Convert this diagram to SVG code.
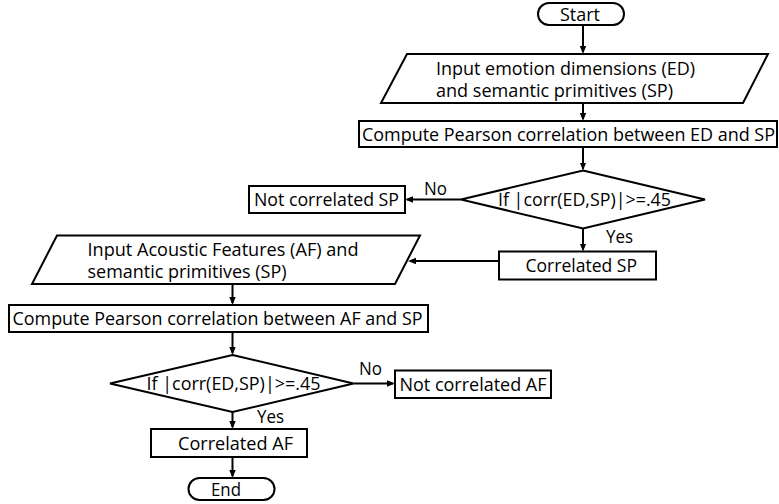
<svg xmlns="http://www.w3.org/2000/svg" width="779" height="504" viewBox="0 0 779 504">
  <style>
    .shape { fill: #ffffff; stroke: #000000; stroke-width: 2; }
    .flow { fill: none; stroke: #000000; stroke-width: 2; marker-end: url(#arrow); }
    text { font-family: "Open Sans", "Noto Sans", "Liberation Sans", sans-serif; font-size: 18px; fill: #000000; }
  </style>
  <defs>
    <marker id="arrow" viewBox="0 0 10 10" refX="7.5" refY="5" markerWidth="8" markerHeight="8" markerUnits="userSpaceOnUse" orient="auto">
      <path d="M0,1 L10,5 L0,9 z" fill="#000000"/>
    </marker>
  </defs>

  <rect x="0" y="0" width="779" height="504" fill="#ffffff"/>

  <!-- connectors -->
  <g id="connectors">
    <path class="flow" d="M583 25 V52"/>
    <path class="flow" d="M583 103 V119"/>
    <path class="flow" d="M583 147 V168.5"/>
    <path class="flow" d="M461 199.5 H407"/>
    <path class="flow" d="M583 228.5 V249.5"/>
    <path class="flow" d="M499 261 H410"/>
    <path class="flow" d="M232.5 284 V303"/>
    <path class="flow" d="M232.5 332 V353"/>
    <path class="flow" d="M353.5 383.5 H393"/>
    <path class="flow" d="M232.5 412 V427"/>
    <path class="flow" d="M232.5 457 V476"/>
  </g>

  <!-- edge labels -->
  <g id="labels">
    <text x="424" y="194.5" textLength="23" lengthAdjust="spacingAndGlyphs">No</text>
    <text x="606" y="243" textLength="27" lengthAdjust="spacingAndGlyphs">Yes</text>
    <text x="359" y="375" textLength="23" lengthAdjust="spacingAndGlyphs">No</text>
    <text x="257" y="423" textLength="27" lengthAdjust="spacingAndGlyphs">Yes</text>
  </g>

  <g id="start">
    <rect class="shape" x="538" y="3" width="86" height="22" rx="11" ry="11"/>
    <text x="560" y="20.5" textLength="40" lengthAdjust="spacingAndGlyphs">Start</text>
  </g>

  <g id="input-ed-sp">
    <polygon class="shape" points="407,54 768,54 743,103 381,103"/>
    <text x="436" y="75" textLength="259" lengthAdjust="spacingAndGlyphs">Input emotion dimensions (ED)</text>
    <text x="436" y="97" textLength="237" lengthAdjust="spacingAndGlyphs">and semantic primitives (SP)</text>
  </g>

  <g id="pearson-ed-sp">
    <rect class="shape" x="359" y="121" width="418" height="26"/>
    <text x="362" y="140.5" textLength="413" lengthAdjust="spacingAndGlyphs">Compute Pearson correlation between ED and SP</text>
  </g>

  <g id="decision-sp">
    <polygon class="shape" points="583,170.5 705,199.5 583,228.5 461,199.5"/>
    <text x="498" y="206" textLength="173" lengthAdjust="spacingAndGlyphs">If |corr(ED,SP)|&gt;=.45</text>
  </g>

  <g id="not-correlated-sp">
    <rect class="shape" x="249" y="186" width="156" height="27"/>
    <text x="254" y="206" textLength="145" lengthAdjust="spacingAndGlyphs">Not correlated SP</text>
  </g>

  <g id="correlated-sp">
    <rect class="shape" x="499" y="251.5" width="157" height="28"/>
    <text x="525.5" y="272" textLength="111.5" lengthAdjust="spacingAndGlyphs">Correlated SP</text>
  </g>

  <g id="input-af-sp">
    <polygon class="shape" points="57,235.5 420,235.5 395,284 32,284"/>
    <text x="87.5" y="255.5" textLength="271" lengthAdjust="spacingAndGlyphs">Input Acoustic Features (AF) and</text>
    <text x="87.5" y="277.5" textLength="199" lengthAdjust="spacingAndGlyphs">semantic primitives (SP)</text>
  </g>

  <g id="pearson-af-sp">
    <rect class="shape" x="9" y="305" width="419" height="27"/>
    <text x="12.5" y="324.5" textLength="410" lengthAdjust="spacingAndGlyphs">Compute Pearson correlation between AF and SP</text>
  </g>

  <g id="decision-af">
    <polygon class="shape" points="232.5,355 353.5,383.5 232.5,412 110,383.5"/>
    <text x="146.5" y="390" textLength="174" lengthAdjust="spacingAndGlyphs">If |corr(ED,SP)|&gt;=.45</text>
  </g>

  <g id="not-correlated-af">
    <rect class="shape" x="395" y="370.5" width="156" height="27.5"/>
    <text x="399.5" y="390.5" textLength="147" lengthAdjust="spacingAndGlyphs">Not correlated AF</text>
  </g>

  <g id="correlated-af">
    <rect class="shape" x="151" y="429" width="156" height="28"/>
    <text x="178" y="449.5" textLength="115" lengthAdjust="spacingAndGlyphs">Correlated AF</text>
  </g>

  <g id="end">
    <rect class="shape" x="188.5" y="478" width="86" height="22" rx="11" ry="11"/>
    <text x="211" y="495.5" textLength="30" lengthAdjust="spacingAndGlyphs">End</text>
  </g>
</svg>
